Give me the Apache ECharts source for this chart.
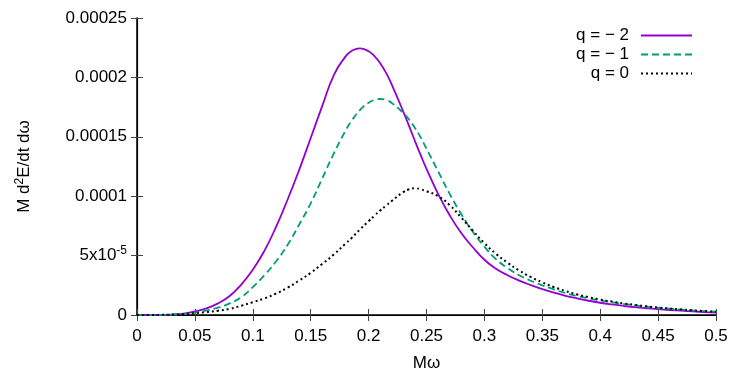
<!DOCTYPE html>
<html>
<head>
<meta charset="utf-8">
<script src="https://cdn.jsdelivr.net/npm/echarts@6/dist/echarts.min.js"></script>
<style>
  html, body { margin: 0; padding: 0; background: #fff; }
  #chart { width: 750px; height: 375px; }
</style>
</head>
<body>
<div id="chart"></div>
<script>
// x values (M omega), denser around the peaks
const omega = [
  0.00, 0.01, 0.02, 0.03, 0.04, 0.05, 0.06, 0.07, 0.08, 0.09,
  0.10, 0.11, 0.12, 0.13, 0.14, 0.15, 0.16, 0.17, 0.18,
  0.185, 0.1925, 0.20, 0.205, 0.21, 0.215, 0.22, 0.23, 0.235, 0.24, 0.245,
  0.25, 0.26, 0.27, 0.28, 0.29, 0.30, 0.31, 0.32, 0.33, 0.34,
  0.35, 0.36, 0.37, 0.38, 0.39, 0.40, 0.41, 0.42, 0.43, 0.44,
  0.45, 0.46, 0.47, 0.48, 0.49, 0.50
];

// M d2E/dt domega
const qMinus2 = [
  0, 0, 0.01e-5, 0.04e-5, 0.12e-5, 0.3e-5, 0.55e-5, 0.98e-5, 1.6e-5, 2.55e-5,
  3.8e-5, 5.4e-5, 7.4e-5, 9.7e-5, 12.2e-5, 14.9e-5, 17.6e-5, 20.2e-5, 21.75e-5,
  22.2e-5, 22.45e-5, 22.2e-5, 21.8e-5, 21.2e-5, 20.4e-5, 19.4e-5, 17.1e-5, 15.9e-5, 14.65e-5, 13.45e-5,
  12.3e-5, 10.2e-5, 8.4e-5, 6.9e-5, 5.7e-5, 4.65e-5, 3.9e-5, 3.35e-5, 2.9e-5, 2.52e-5,
  2.18e-5, 1.88e-5, 1.62e-5, 1.4e-5, 1.2e-5, 1.03e-5, 0.89e-5, 0.77e-5, 0.66e-5, 0.57e-5,
  0.49e-5, 0.42e-5, 0.36e-5, 0.3e-5, 0.25e-5, 0.21e-5
];
const qMinus1 = [
  0, 0, 0.01e-5, 0.03e-5, 0.08e-5, 0.2e-5, 0.38e-5, 0.62e-5, 0.98e-5, 1.5e-5,
  2.35e-5, 3.35e-5, 4.5e-5, 5.9e-5, 7.6e-5, 9.4e-5, 11.5e-5, 13.6e-5, 15.5e-5,
  16.3e-5, 17.25e-5, 17.87e-5, 18.1e-5, 18.18e-5, 18.1e-5, 17.85e-5, 17.0e-5, 16.45e-5, 15.75e-5, 14.95e-5,
  14.0e-5, 12.1e-5, 10.2e-5, 8.5e-5, 7.0e-5, 5.75e-5, 4.7e-5, 3.95e-5, 3.35e-5, 2.88e-5,
  2.5e-5, 2.15e-5, 1.85e-5, 1.6e-5, 1.4e-5, 1.23e-5, 1.07e-5, 0.93e-5, 0.81e-5, 0.7e-5,
  0.61e-5, 0.53e-5, 0.46e-5, 0.39e-5, 0.33e-5, 0.28e-5
];
const q0 = [
  0, 0, 0.01e-5, 0.03e-5, 0.07e-5, 0.15e-5, 0.24e-5, 0.36e-5, 0.52e-5, 0.78e-5,
  1.08e-5, 1.4e-5, 1.8e-5, 2.3e-5, 2.9e-5, 3.55e-5, 4.3e-5, 5.1e-5, 6.0e-5,
  6.45e-5, 7.2e-5, 7.9e-5, 8.35e-5, 8.8e-5, 9.2e-5, 9.6e-5, 10.35e-5, 10.58e-5, 10.67e-5, 10.58e-5,
  10.42e-5, 10.0e-5, 9.25e-5, 8.2e-5, 7.1e-5, 6.05e-5, 5.15e-5, 4.4e-5, 3.75e-5, 3.2e-5,
  2.75e-5, 2.35e-5, 2.02e-5, 1.73e-5, 1.5e-5, 1.3e-5, 1.13e-5, 0.98e-5, 0.85e-5, 0.73e-5,
  0.63e-5, 0.54e-5, 0.46e-5, 0.39e-5, 0.33e-5, 0.28e-5
];

const seriesNames = ['q = \u2212 2', 'q = \u2212 1', 'q = 0'];

const FONT = 'Liberation Sans';
const chart = echarts.init(document.getElementById('chart'), null, { renderer: 'canvas' });

function pairs(ys) {
  return omega.map((x, i) => [x, ys[i]]);
}

function yLabel(v) {
  if (v === 0) return '0';
  if (Math.abs(v - 5e-5) < 1e-9) return '{n|5x10}{s|-5}';
  return String(parseFloat(v.toFixed(5)));
}

const mirror = {
  axisLine: { show: true, lineStyle: { color: '#000', width: 1.2 } },
  axisTick: { show: true, inside: true, length: 6, lineStyle: { color: '#444' } },
  axisLabel: { show: false },
  splitLine: { show: false },
};

function legendFor(name, top) {
  return {
    data: [name],
    right: 57,
    top: top,
    padding: 0,
    align: 'right',
    itemWidth: 51,
    itemHeight: 12,
    itemStyle: { opacity: 0 },
    textStyle: { fontFamily: FONT, fontSize: 17, color: '#000', padding: [0, 7, 0, 0] },
    selectedMode: false,
  };
}

const option = {
  backgroundColor: '#fff',
  animation: false,
  grid: { left: 137, right: 34, top: 18, bottom: 60, outerBoundsMode: 'none' },
  legend: [legendFor(seriesNames[0], 27), legendFor(seriesNames[1], 46), legendFor(seriesNames[2], 65)],
  xAxis: [
    {
      type: 'value',
      min: 0, max: 0.5, interval: 0.05,
      name: 'M\u03c9',
      nameLocation: 'middle',
      nameGap: 40,
      nameTextStyle: { fontFamily: FONT, fontSize: 17, color: '#000' },
      axisLine: { show: true, lineStyle: { color: '#000', width: 1.5 } },
      axisTick: { show: true, inside: true, length: 6, lineStyle: { color: '#444' } },
      axisLabel: {
        fontFamily: FONT, fontSize: 17, color: '#000', margin: 13,
        formatter: (v) => String(parseFloat(v.toFixed(2))),
      },
      splitLine: { show: false },
    },
    Object.assign({ type: 'value', position: 'top', min: 0, max: 0.5, interval: 0.05 }, mirror),
  ],
  yAxis: [
    {
      type: 'value',
      min: 0, max: 0.00025, interval: 0.00005,
      name: '{n|M d}{s|2}{n|E/dt d\u03c9}',
      nameLocation: 'middle',
      nameGap: 102,
      nameRotate: 90,
      nameTextStyle: {
        rich: {
          n: { fontFamily: FONT, fontSize: 17, color: '#000' },
          s: { fontFamily: FONT, fontSize: 12, color: '#000', padding: [0, 0, 9, 0] },
        },
      },
      axisLine: { show: true, lineStyle: { color: '#000', width: 1.5 } },
      axisTick: { show: true, inside: true, length: 6, lineStyle: { color: '#444' } },
      axisLabel: {
        fontFamily: FONT, fontSize: 17, color: '#000', margin: 10,
        formatter: yLabel,
        rich: {
          n: { fontFamily: FONT, fontSize: 17, color: '#000' },
          s: { fontFamily: FONT, fontSize: 12, color: '#000', padding: [0, 0, 9, 0] },
        },
      },
      splitLine: { show: false },
    },
    Object.assign({ type: 'value', position: 'right', min: 0, max: 0.00025, interval: 0.00005 }, mirror),
  ],
  series: [
    {
      name: seriesNames[0],
      type: 'line',
      data: pairs(qMinus2),
      smooth: 0.5,
      symbol: 'none',
      lineStyle: { color: '#9400d3', width: 1.8 },
      itemStyle: { color: '#9400d3' },
    },
    {
      name: seriesNames[1],
      type: 'line',
      data: pairs(qMinus1),
      smooth: 0.5,
      symbol: 'none',
      lineStyle: { color: '#009e73', width: 1.8, type: [7, 4] },
      itemStyle: { color: '#009e73' },
    },
    {
      name: seriesNames[2],
      type: 'line',
      data: pairs(q0),
      smooth: 0.5,
      symbol: 'none',
      lineStyle: { color: '#000', width: 2, type: [2, 3] },
      itemStyle: { color: '#000' },
    },
  ],
};

chart.setOption(option);
</script>
</body>
</html>
